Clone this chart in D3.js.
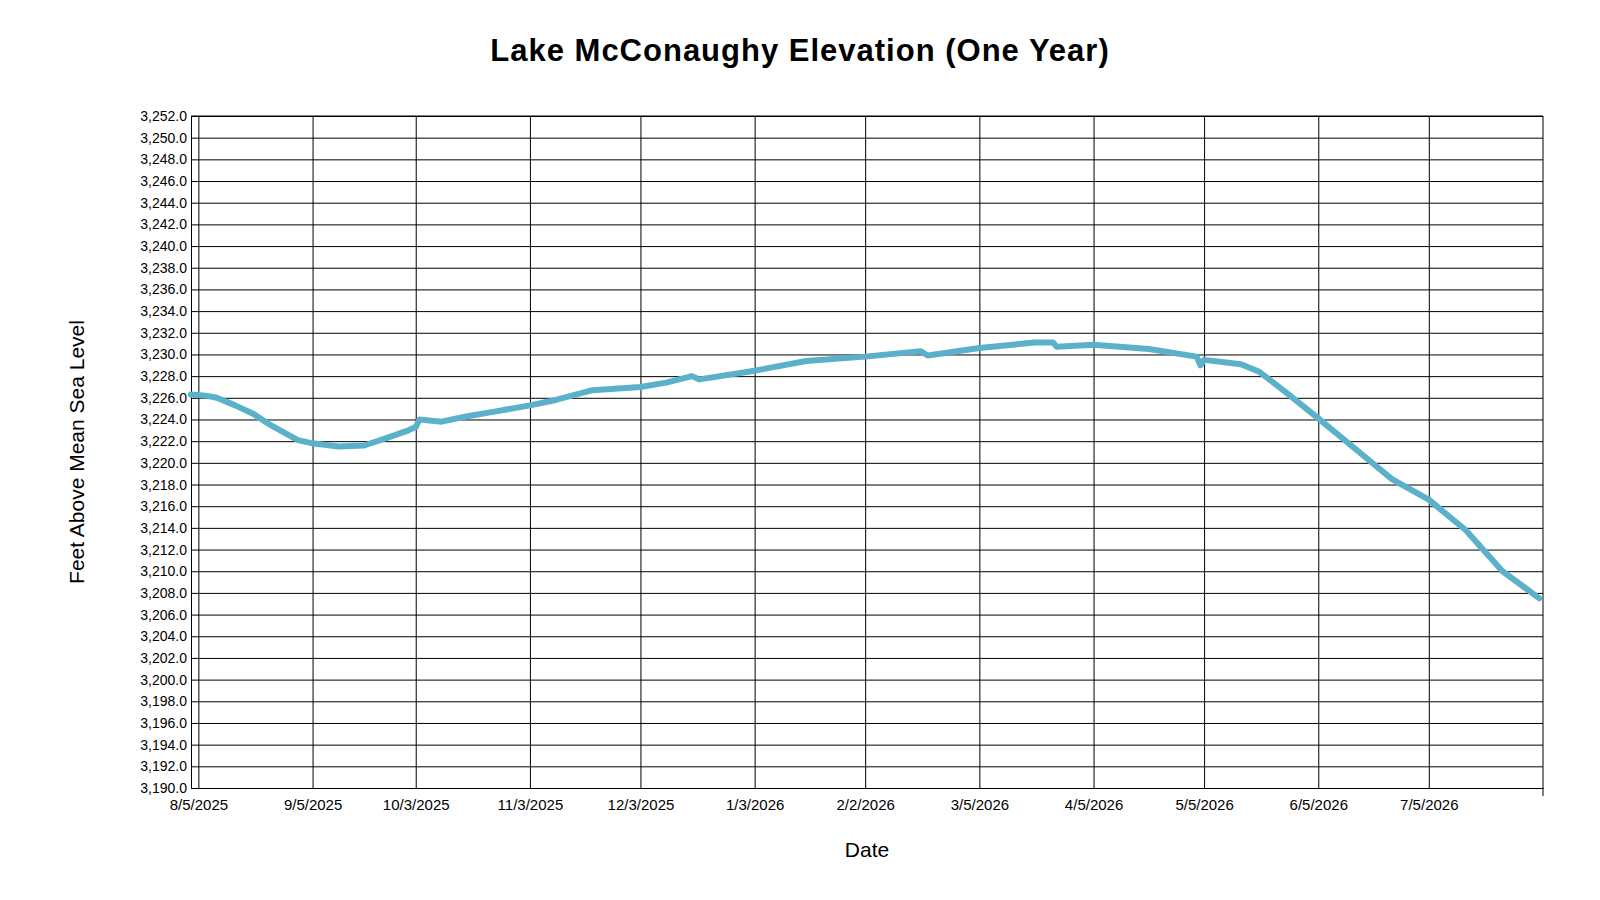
<!DOCTYPE html>
<html><head><meta charset="utf-8">
<script src="https://cdn.jsdelivr.net/npm/d3@7"></script>
<style>body{margin:0;background:#fff}text{font-family:"Liberation Sans",Arial,sans-serif}</style>
</head><body><svg id="c" width="1600" height="900"></svg>
<script>
const dates=["2025-08-03","2025-08-07","2025-08-10","2025-08-15","2025-08-20","2025-08-25","2025-09-01","2025-09-05","2025-09-12","2025-09-19","2025-09-26","2025-10-01","2025-10-03","2025-10-04","2025-10-10","2025-10-17","2025-10-24","2025-11-03","2025-11-10","2025-11-20","2025-12-03","2025-12-10","2025-12-17","2025-12-19","2026-01-03","2026-01-17","2026-02-02","2026-02-17","2026-02-19","2026-03-05","2026-03-20","2026-03-25","2026-03-26","2026-04-05","2026-04-20","2026-05-03","2026-05-04","2026-05-05","2026-05-15","2026-05-20","2026-05-28","2026-06-05","2026-06-15","2026-06-25","2026-07-05","2026-07-15","2026-07-25","2026-08-04"];
const values=[3226.3,3226.2,3226.0,3225.3,3224.5,3223.4,3222.1,3221.8,3221.5,3221.6,3222.4,3223.0,3223.3,3224.0,3223.8,3224.3,3224.7,3225.3,3225.8,3226.7,3227.0,3227.4,3228.0,3227.7,3228.5,3229.4,3229.8,3230.3,3229.9,3230.6,3231.1,3231.1,3230.7,3230.9,3230.5,3229.8,3229.0,3229.5,3229.1,3228.4,3226.3,3224.1,3221.3,3218.5,3216.6,3213.8,3210.0,3207.5];
const xTicks=["2025-08-05","2025-09-05","2025-10-03","2025-11-03","2025-12-03","2026-01-03","2026-02-02","2026-03-05","2026-04-05","2026-05-05","2026-06-05","2026-07-05"];
const yMin=3190,yMax=3252,yStep=2;
const p=d3.timeParse("%Y-%m-%d"), f=d3.timeFormat("%-m/%-d/%Y");
const svg=d3.select("#c");
const L=191,R=1543,T=116,B=788;
const x=d3.scaleTime().domain([p("2025-08-03"),p("2026-08-05")]).range([L,R]);
const y=d3.scaleLinear().domain([yMin,yMax]).range([B,T]);
const yt=d3.range(yMin,yMax+1,yStep);
svg.append("g").attr("transform",`translate(0,${B})`).call(d3.axisBottom(x).tickValues(xTicks.map(p)).tickFormat(f).tickSize(-(B-T)).tickSizeOuter(0))
 .call(g=>{g.select(".domain").attr("stroke","#000");g.selectAll("line").attr("stroke","#000");g.selectAll("text").attr("font-size",15).attr("dy","1.25em").attr("fill","#000");});
svg.append("g").attr("transform",`translate(${L},0)`).call(d3.axisLeft(y).tickValues(yt).tickFormat(d3.format(",.1f")).tickSize(-(R-L)).tickSizeOuter(0))
 .call(g=>{g.selectAll("line").attr("stroke","#000");g.select(".domain").attr("stroke","#000");g.selectAll("text").attr("font-size",14).attr("fill","#000").attr("x",-4);});
svg.append("line").attr("x1",R).attr("x2",R).attr("y1",T).attr("y2",B+8).attr("stroke","#000");
svg.append("line").attr("x1",L).attr("x2",R).attr("y1",T).attr("y2",T).attr("stroke","#000");
svg.append("path").datum(dates.map((d,i)=>[p(d),values[i]])).attr("fill","none").attr("stroke","#5bb1c9").attr("stroke-width",6).attr("stroke-linejoin","round").attr("stroke-linecap","round")
 .attr("d",d3.line().x(d=>x(d[0])).y(d=>y(d[1])));
svg.append("text").attr("x",800).attr("y",61).attr("text-anchor","middle").attr("font-size",31).attr("font-weight","bold").attr("letter-spacing",1).text("Lake McConaughy Elevation (One Year)");
svg.append("text").attr("x",867).attr("y",857).attr("text-anchor","middle").attr("font-size",21).text("Date");
svg.append("text").attr("transform",`translate(84,452) rotate(-90)`).attr("text-anchor","middle").attr("font-size",21).text("Feet Above Mean Sea Level");
</script></body></html>
